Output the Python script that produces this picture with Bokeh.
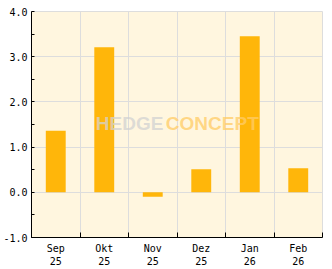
from bokeh.plotting import figure
from bokeh.models import FixedTicker, Range1d, Label
from bokeh.embed import file_html
from bokeh.resources import INLINE

months = ["Sep\n25", "Okt\n25", "Nov\n25", "Dez\n25", "Jan\n26", "Feb\n26"]
values = [1.36, 3.21, -0.10, 0.51, 3.45, 0.53]
y_ticks = [-1, 0, 1, 2, 3, 4]
y_minor = [-0.5, 0.5, 1.5, 2.5, 3.5]

n = len(months)
centers = [i + 0.5 for i in range(n)]
bounds = list(range(n + 1))

p = figure(width=332, height=269, output_backend="svg", toolbar_location=None,
           x_range=Range1d(0, n), y_range=Range1d(-1, 4),
           min_border_left=31, min_border_right=10, min_border_top=11, min_border_bottom=31)
p.background_fill_color = "#fff6df"
p.border_fill_color = "white"
p.outline_line_color = "#dddddd"
p.outline_line_width = 1

p.vbar(x=centers, top=values, bottom=0, width=0.41, color="#ffb60a", line_color=None)

font = "DejaVu Sans Mono"
# x axis
p.xaxis.ticker = FixedTicker(ticks=centers, minor_ticks=bounds)
p.xaxis.major_label_overrides = {c: m for c, m in zip(centers, months)}
p.xaxis.major_tick_in = 0
p.xaxis.major_tick_out = 0
p.xaxis.minor_tick_in = 5
p.xaxis.minor_tick_out = 0
p.xaxis.minor_tick_line_color = "black"
p.xaxis.axis_line_color = "black"
p.xaxis.major_label_text_font = font
p.xaxis.major_label_text_font_size = "10px"
p.xaxis.major_label_text_color = "black"
p.xaxis.major_label_standoff = 5
p.xgrid.ticker = FixedTicker(ticks=bounds)
p.xgrid.grid_line_color = "#dddddd"

# y axis
p.yaxis.ticker = FixedTicker(ticks=y_ticks, minor_ticks=y_minor)
p.yaxis.major_label_overrides = {t: f"{t:.1f}" for t in y_ticks}
p.yaxis.major_tick_in = 3
p.yaxis.major_tick_out = 0
p.yaxis.minor_tick_in = 3
p.yaxis.minor_tick_out = 0
p.yaxis.minor_tick_line_color = "black"
p.yaxis.axis_line_color = "black"
p.yaxis.major_label_text_font = font
p.yaxis.major_label_text_font_size = "10px"
p.yaxis.major_label_text_color = "black"
p.yaxis.major_label_standoff = 4
p.ygrid.ticker = FixedTicker(ticks=y_ticks)
p.ygrid.grid_line_color = "#dddddd"

# watermark
wm_font = "Liberation Sans"
p.add_layout(Label(x=2.72, y=1.52, text="HEDGE", text_align="right", text_baseline="middle",
                   text_font=wm_font, text_font_style="bold", text_font_size="19px",
                   text_color="#d2d2d2", text_alpha=0.75))
p.add_layout(Label(x=2.77, y=1.52, text="CONCEPT", text_align="left", text_baseline="middle",
                   text_font=wm_font, text_font_style="bold", text_font_size="19px",
                   text_color="#ffcc66", text_alpha=0.75))

open("out.html", "w").write(file_html(p, INLINE))
